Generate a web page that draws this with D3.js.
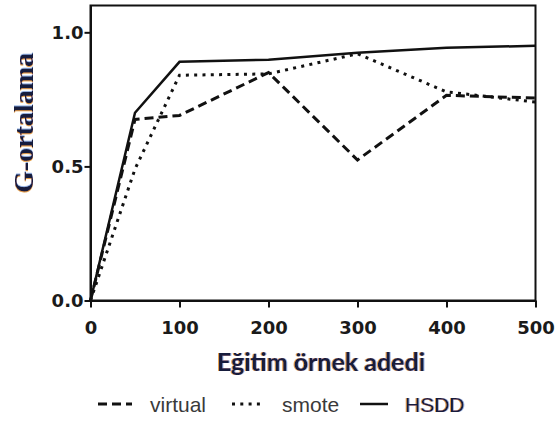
<!DOCTYPE html>
<html>
<head>
<meta charset="utf-8">
<script src="https://cdn.jsdelivr.net/npm/d3@7/dist/d3.min.js"></script>
<style>
  html, body { margin: 0; padding: 0; background: #fff; }
  svg { display: block; }
</style>
</head>
<body>
<svg id="chart" width="556" height="421"></svg>
<script>
// Training sample counts on the x axis
const sampleCounts = [0, 50, 100, 200, 300, 400, 500];
// G-mean per method
const virtualValues = [0, 0.675, 0.69, 0.85, 0.524, 0.765, 0.755];
const smoteValues   = [0, 0.49, 0.84, 0.845, 0.92, 0.778, 0.74];
const hsddValues    = [0, 0.70, 0.89, 0.898, 0.924, 0.942, 0.95];
const seriesNames   = ["virtual", "smote", "HSDD"];
const xTicks = [0, 100, 200, 300, 400, 500];
const yTicks = [0, 0.5, 1.0];

const svg = d3.select("#chart");
const plotLeft = 90.5, plotRight = 535.5, plotTop = 5.5, plotBottom = 300.5;

const x = d3.scaleLinear().domain([0, 500]).range([plotLeft, plotRight]);
const y = d3.scaleLinear().domain([0, 1.1]).range([plotBottom, plotTop]);

const ink = "#111";
const styles = {
  virtual: { dash: "9 5", width: 3 },
  smote:   { dash: "3 5.3", width: 3 },
  HSDD:    { dash: null, width: 2.5 }
};

// Warm/cool colour fringe used on the titles
const defs = svg.append("defs");
const fringe = defs.append("filter").attr("id", "fringe")
  .attr("x", "-5%").attr("y", "-20%").attr("width", "110%").attr("height", "140%");
fringe.append("feFlood").attr("flood-color", "#e08a1e").attr("flood-opacity", 0.8).attr("result", "warm");
fringe.append("feOffset").attr("in", "SourceAlpha").attr("dx", -1).attr("dy", 0).attr("result", "shiftL");
fringe.append("feComposite").attr("in", "warm").attr("in2", "shiftL").attr("operator", "in").attr("result", "warmShift");
fringe.append("feFlood").attr("flood-color", "#3a6cc8").attr("flood-opacity", 0.5).attr("result", "cool");
fringe.append("feOffset").attr("in", "SourceAlpha").attr("dx", 0.8).attr("dy", 0).attr("result", "shiftR");
fringe.append("feComposite").attr("in", "cool").attr("in2", "shiftR").attr("operator", "in").attr("result", "coolShift");
const merge = fringe.append("feMerge");
merge.append("feMergeNode").attr("in", "warmShift");
merge.append("feMergeNode").attr("in", "coolShift");
merge.append("feMergeNode").attr("in", "SourceGraphic");

// Frame around the plot area
svg.append("rect")
  .attr("x", plotLeft).attr("y", plotTop)
  .attr("width", plotRight - plotLeft).attr("height", plotBottom - plotTop)
  .attr("fill", "none").attr("stroke", ink).attr("stroke-width", 2);

// Axes
const yAxis = svg.append("g")
  .attr("transform", `translate(${plotLeft},0)`)
  .call(d3.axisLeft(y).tickValues(yTicks).tickFormat(d3.format(".1f"))
    .tickSize(6).tickSizeOuter(0).tickPadding(1));
const xAxis = svg.append("g")
  .attr("transform", `translate(0,${plotBottom})`)
  .call(d3.axisBottom(x).tickValues(xTicks).tickFormat(d3.format("d"))
    .tickSize(7).tickSizeOuter(0).tickPadding(14));

[yAxis, xAxis].forEach(g => {
  g.select(".domain").attr("stroke", ink).attr("stroke-width", 2);
  g.selectAll(".tick line").attr("stroke", ink).attr("stroke-width", 2);
  g.selectAll(".tick text")
    .attr("fill", "#1a1a1a")
    .style("font-family", "'DejaVu Sans', sans-serif")
    .style("font-weight", "bold")
    .style("font-size", "18px");
});

// Series lines
const rows = [
  { name: seriesNames[0], values: virtualValues },
  { name: seriesNames[1], values: smoteValues },
  { name: seriesNames[2], values: hsddValues }
];
const line = d3.line()
  .x((d, i) => x(sampleCounts[i]))
  .y(d => y(d));

svg.append("g").selectAll("path")
  .data(rows)
  .join("path")
  .attr("d", d => line(d.values))
  .attr("fill", "none")
  .attr("stroke", ink)
  .attr("stroke-width", d => styles[d.name].width)
  .attr("stroke-dasharray", d => styles[d.name].dash)
  .attr("stroke-linejoin", "miter");

// Axis titles
svg.append("text")
  .text("G-ortalama")
  .attr("transform", "translate(33,123) rotate(-90)")
  .attr("text-anchor", "middle")
  .attr("fill", "#141a3c")
  .attr("filter", "url(#fringe)")
  .style("font-family", "'Liberation Serif', 'Times New Roman', serif")
  .style("font-weight", "bold")
  .style("font-size", "28px");

svg.append("text")
  .text("Eğitim örnek adedi")
  .attr("x", 321).attr("y", 371)
  .attr("text-anchor", "middle")
  .attr("fill", "#141a3c")
  .attr("filter", "url(#fringe)")
  .style("font-family", "Lato, 'Open Sans', sans-serif")
  .style("font-weight", "bold")
  .style("font-size", "25px");

// Legend
const legendY = 404;
const legendItems = [
  { name: seriesNames[0], x1: 98, x2: 132, tx: 150, color: "#3a3a3a", fx: false },
  { name: seriesNames[1], x1: 232, x2: 261, tx: 282, color: "#3a3a3a", fx: false },
  { name: seriesNames[2], x1: 360, x2: 388, tx: 405, color: "#141a3c", fx: true }
];
const legend = svg.append("g");
legendItems.forEach(it => {
  const s = styles[it.name];
  legend.append("line")
    .attr("x1", it.x1).attr("x2", it.x2)
    .attr("y1", legendY).attr("y2", legendY)
    .attr("stroke", ink)
    .attr("stroke-width", s.width)
    .attr("stroke-dasharray", s.dash);
  const t = legend.append("text").text(it.name)
    .attr("x", it.tx).attr("y", 412)
    .attr("fill", it.color)
    .style("font-family", "'Liberation Sans', Arial, sans-serif")
    .style("font-size", "21px");
  if (it.fx) t.attr("filter", "url(#fringe)");
});
</script>
</body>
</html>
